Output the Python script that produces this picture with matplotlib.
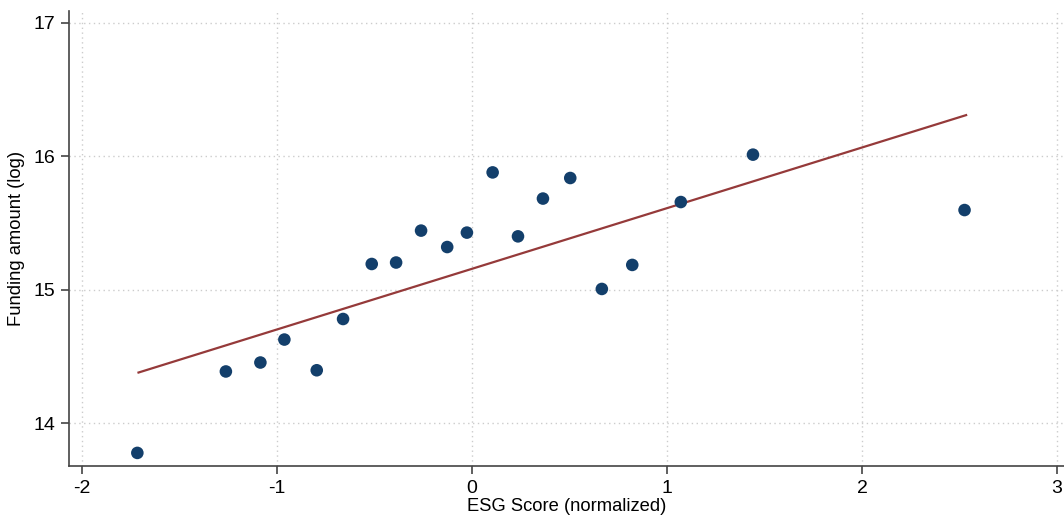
import matplotlib
matplotlib.use("Agg")
import matplotlib.pyplot as plt
import numpy as np

# ESG score vs funding amount
esg_score = [-1.716, -1.262, -1.085, -0.962, -0.796, -0.661, -0.514, -0.389,
             -0.261, -0.127, -0.026, 0.106, 0.236, 0.364, 0.504, 0.666,
             0.822, 1.071, 1.441, 2.526]
funding_log = [13.778, 14.388, 14.455, 14.627, 14.397, 14.781, 15.193, 15.204,
               15.443, 15.320, 15.428, 15.879, 15.400, 15.683, 15.837, 15.006,
               15.186, 15.657, 16.012, 15.597]
# fitted line end points
fit_x = [-1.710, 2.534]
fit_y = [14.380, 16.308]
x_ticks = [-2, -1, 0, 1, 2, 3]
y_ticks = [14, 15, 16, 17]

plt.rcParams['font.family'] = ['Liberation Sans', 'DejaVu Sans']

fig = plt.figure(figsize=(10.64, 5.18), dpi=100)
ax = fig.add_axes([0.0653, 0.1004, 0.9347, 0.8784])

ax.scatter(esg_score, funding_log, s=82, color='#133f6b', edgecolors='none', zorder=3)
ax.plot(fit_x, fit_y, color='#953a3a', linewidth=1.6, zorder=2)

ax.set_xlim(-2.064, 3.036)
ax.set_ylim(13.68, 17.088)
ax.set_xticks(x_ticks)
ax.set_yticks(y_ticks)
ax.set_xticklabels([str(t) for t in x_ticks])
ax.set_yticklabels([str(t) for t in y_ticks])
ax.grid(True, color='#cccccc', linestyle=(0, (1, 2.5)), linewidth=1.0)
ax.set_axisbelow(True)

for side in ['top', 'right']:
    ax.spines[side].set_visible(False)
for side in ['left', 'bottom']:
    ax.spines[side].set_color('#444444')
    ax.spines[side].set_linewidth(1.2)

ax.tick_params(direction='out', length=6, width=1.2, color='#444444',
               labelsize=14, pad=4)
ax.set_xlabel('ESG Score (normalized)', fontsize=13.2, labelpad=1)
ax.set_ylabel('Funding amount (log)', fontsize=13.2, labelpad=6)

fig.savefig('out.png', dpi=100, facecolor='white')
